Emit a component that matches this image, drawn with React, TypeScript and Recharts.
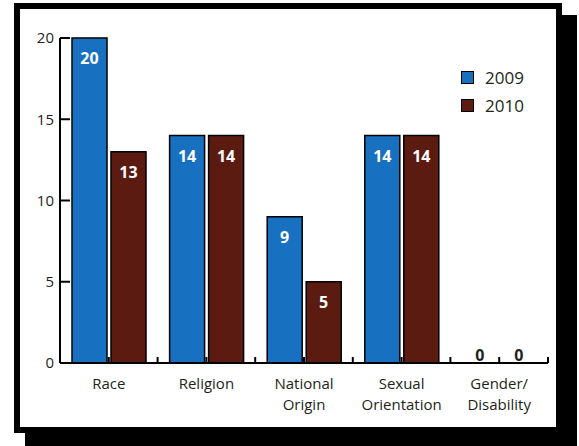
import { BarChart, Bar, XAxis, YAxis, Legend, LabelList, Rectangle } from 'recharts';

const categories = ['Race', 'Religion', 'National Origin', 'Sexual Orientation', 'Gender/ Disability'];
const values2009 = [20, 14, 9, 14, 0];
const values2010 = [13, 14, 5, 14, 0];
const yTicks = [0, 5, 10, 15, 20];

const BLUE = '#1771c0';
const BROWN = '#5c1b10';
const INK = '#231f20';
const FONT = '"Open Sans", sans-serif';

const data = categories.map((name, i) => ({
  name,
  y2009: values2009[i],
  y2010: values2010[i],
}));

// label under the baseline plus little upward marks at every bar slot edge
function CategoryTick(props: any) {
  const { x, y, payload, index, width, visibleTicksCount } = props;
  const half = payload?.offset || (Number(width) / Number(visibleTicksCount || categories.length)) / 2;
  const lines = String(payload.value).split(' ');
  const marks = [x - half, x];
  if (index === categories.length - 1) marks.push(x + half);
  return (
    <g>
      {marks.map((mx, i) => (
        <line key={i} x1={mx} x2={mx} y1={y} y2={y - 6} stroke="#000" strokeWidth={2} />
      ))}
      <text x={x} y={y} textAnchor="middle" fill={INK} fontFamily={FONT} fontSize={15}>
        {lines.map((line, i) => (
          <tspan key={i} x={x} dy={i === 0 ? 26 : 21}>{line}</tspan>
        ))}
      </text>
    </g>
  );
}

function renderValue(props: any) {
  const { x, y, width, value } = props;
  if (!value) return null;
  const cx = Number(x) + Number(width) / 2;
  return (
    <text x={cx} y={Number(y) + 26} textAnchor="middle" fill="#fff" fontFamily={FONT} fontWeight={700} fontSize={16}>
      {value}
    </text>
  );
}

// empty bars print their zero just above the baseline
function BarShape(props: any) {
  const { x, y, width, height, value } = props;
  const v = Array.isArray(value) ? value[1] - value[0] : value;
  if (!height || v === 0) {
    return (
      <text x={x + width / 2} y={y - 2} textAnchor="middle" fill={INK} fontFamily={FONT} fontWeight={700} fontSize={16}>
        0
      </text>
    );
  }
  return <Rectangle {...props} />;
}

function LegendBox({ payload }: any) {
  return (
    <div style={{ display: 'flex', flexDirection: 'column', gap: '10px' }}>
      {(payload || []).map((item: any) => (
        <div key={item.value} style={{ display: 'flex', alignItems: 'center', height: '18px' }}>
          <span style={{
            display: 'inline-block', width: '11px', height: '11px',
            backgroundColor: item.color, border: '1.5px solid #000',
          }} />
          <span style={{ marginLeft: '11px', fontFamily: FONT, fontSize: '17px', color: INK }}>{item.value}</span>
        </div>
      ))}
    </div>
  );
}

export default function App() {
  return (
    <div style={{ position: 'absolute', left: 0, top: 0, width: '579px', height: '446px', background: '#fff', overflow: 'hidden' }}>
      {/* framed panel with a hard black drop shadow */}
      <div style={{
        position: 'absolute', left: '14px', top: '3px', width: '548px', height: '430px',
        boxSizing: 'border-box', border: '6px solid #000', background: '#fff',
        boxShadow: '13px 14px 0 2px #000',
      }} />
      <div style={{ position: 'absolute', left: 0, top: 0 }}>
        <BarChart
          width={579}
          height={446}
          data={data}
          margin={{ top: 38, right: 31, left: 20, bottom: 33 }}
          barCategoryGap={12}
          barGap={4}
        >
          <XAxis
            dataKey="name"
            height={50}
            tick={<CategoryTick />}
            tickLine={false}
            axisLine={{ stroke: '#000', strokeWidth: 2 }}
            tickSize={0}
            tickMargin={0}
            interval={0}
          />
          <YAxis
            width={40}
            domain={[0, 20]}
            ticks={yTicks}
            tickSize={-10}
            tickMargin={16}
            tick={{ fill: INK, fontFamily: FONT, fontSize: 15 }}
            tickLine={{ stroke: '#000', strokeWidth: 2 }}
            axisLine={{ stroke: '#000', strokeWidth: 2 }}
          />
          <Legend
            layout="vertical"
            align="center"
            verticalAlign="middle"
            content={<LegendBox />}
            wrapperStyle={{ left: 461, top: 68, width: 'auto' }}
          />
          <Bar dataKey="y2009" name="2009" fill={BLUE} stroke="#000" strokeWidth={1.5} shape={BarShape} isAnimationActive={false}>
            <LabelList dataKey="y2009" content={renderValue} />
          </Bar>
          <Bar dataKey="y2010" name="2010" fill={BROWN} stroke="#000" strokeWidth={1.5} shape={BarShape} isAnimationActive={false}>
            <LabelList dataKey="y2010" content={renderValue} />
          </Bar>
        </BarChart>
      </div>
    </div>
  );
}
